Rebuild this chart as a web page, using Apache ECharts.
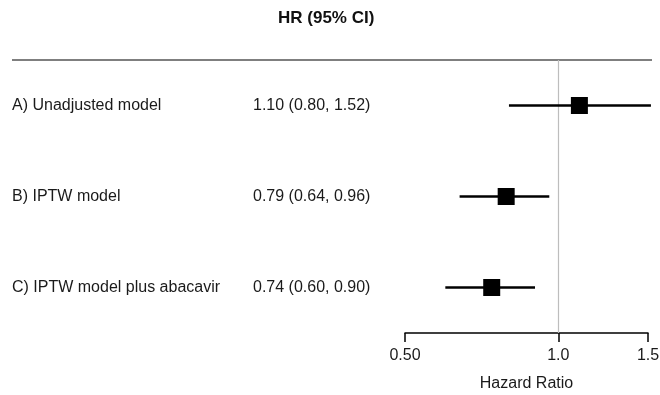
<!DOCTYPE html>
<html><head><meta charset="utf-8">
<script src="https://cdn.jsdelivr.net/npm/echarts@6/dist/echarts.min.js"></script>
<style>html,body{margin:0;padding:0;background:#fff}#c{width:660px;height:395px}</style>
</head><body><div id="c"></div>
<script>
const models = ['A) Unadjusted model', 'B) IPTW model', 'C) IPTW model plus abacavir'];
const hr = [1.10, 0.79, 0.74];
const lower = [0.80, 0.64, 0.60];
const upper = [1.52, 0.96, 0.90];
const tickValues = [0.5, 1.0, 1.5];
const tickLabels = ['0.50', '1.0', '1.5'];

const ciText = models.map((m, i) => hr[i].toFixed(2) + ' (' + lower[i].toFixed(2) + ', ' + upper[i].toFixed(2) + ')');
const FONT = '"Liberation Sans", Arial, sans-serif';

const chart = echarts.init(document.getElementById('c'), null, {renderer: 'canvas'});
chart.setOption({
  animation: false,
  backgroundColor: '#fff',
  textStyle: {fontFamily: FONT},
  title: {
    text: 'HR (95% CI)', left: 273, top: 5,
    textStyle: {fontFamily: FONT, fontSize: 17, fontWeight: 'bold', color: '#111'}
  },
  graphic: [{
    type: 'line', shape: {x1: 12, y1: 60, x2: 652, y2: 60},
    style: {stroke: '#555', lineWidth: 1.5}, z: 1
  }],
  grid: {left: 405, right: 12, top: 60, bottom: 62, containLabel: false, outerBoundsMode: 'none'},
  xAxis: {
    type: 'log', logBase: 10, min: 0.5, max: 1.5,
    name: 'Hazard Ratio', nameLocation: 'middle', nameGap: 43,
    nameTextStyle: {fontFamily: FONT, fontSize: 16, color: '#1a1a1a'},
    axisLine: {show: true, lineStyle: {color: '#000', width: 1.5}},
    axisTick: {show: true, customValues: tickValues, length: 9, inside: false, lineStyle: {color: '#000', width: 1.5}},
    axisLabel: {
      customValues: tickValues, margin: 15, fontFamily: FONT, fontSize: 16, color: '#1a1a1a',
      formatter: v => { const k = tickValues.findIndex(t => Math.abs(t - v) < 1e-6); return k >= 0 ? tickLabels[k] : ''; }
    },
    splitLine: {show: false}, minorTick: {show: false}
  },
  yAxis: {
    type: 'category', data: models, inverse: true,
    axisLine: {show: false}, axisTick: {show: false}, splitLine: {show: false},
    axisLabel: {
      align: 'left', margin: 393, fontFamily: FONT, fontSize: 16, color: '#1a1a1a',
      formatter: (v, i) => '{a|' + v + '}{b|' + ciText[i] + '}',
      rich: {
        a: {width: 241, align: 'left', fontFamily: FONT, fontSize: 16, color: '#1a1a1a'},
        b: {align: 'left', fontFamily: FONT, fontSize: 16, color: '#1a1a1a'}
      }
    }
  },
  series: [
    {
      type: 'custom', z: 3, clip: false,
      encode: {x: [0, 1], y: 2},
      data: models.map((m, i) => [lower[i], upper[i], i]),
      renderItem: (params, api) => {
        const y = api.value(2);
        const p1 = api.coord([api.value(0), y]);
        const p2 = api.coord([api.value(1), y]);
        return {type: 'line', shape: {x1: p1[0], y1: p1[1], x2: p2[0], y2: p2[1]},
          style: {stroke: '#000', lineWidth: 2.5}};
      },
      silent: true
    },
    {
      type: 'scatter', z: 4, symbol: 'rect', symbolSize: 17,
      itemStyle: {color: '#000', opacity: 1},
      data: hr.map((v, i) => [v, i]),
      markLine: {
        silent: true, symbol: 'none', z: 2,
        label: {show: false},
        lineStyle: {color: '#bdbdbd', width: 1.2, type: 'solid'},
        data: [{xAxis: 1}]
      }
    }
  ]
});
</script>
</body></html>
